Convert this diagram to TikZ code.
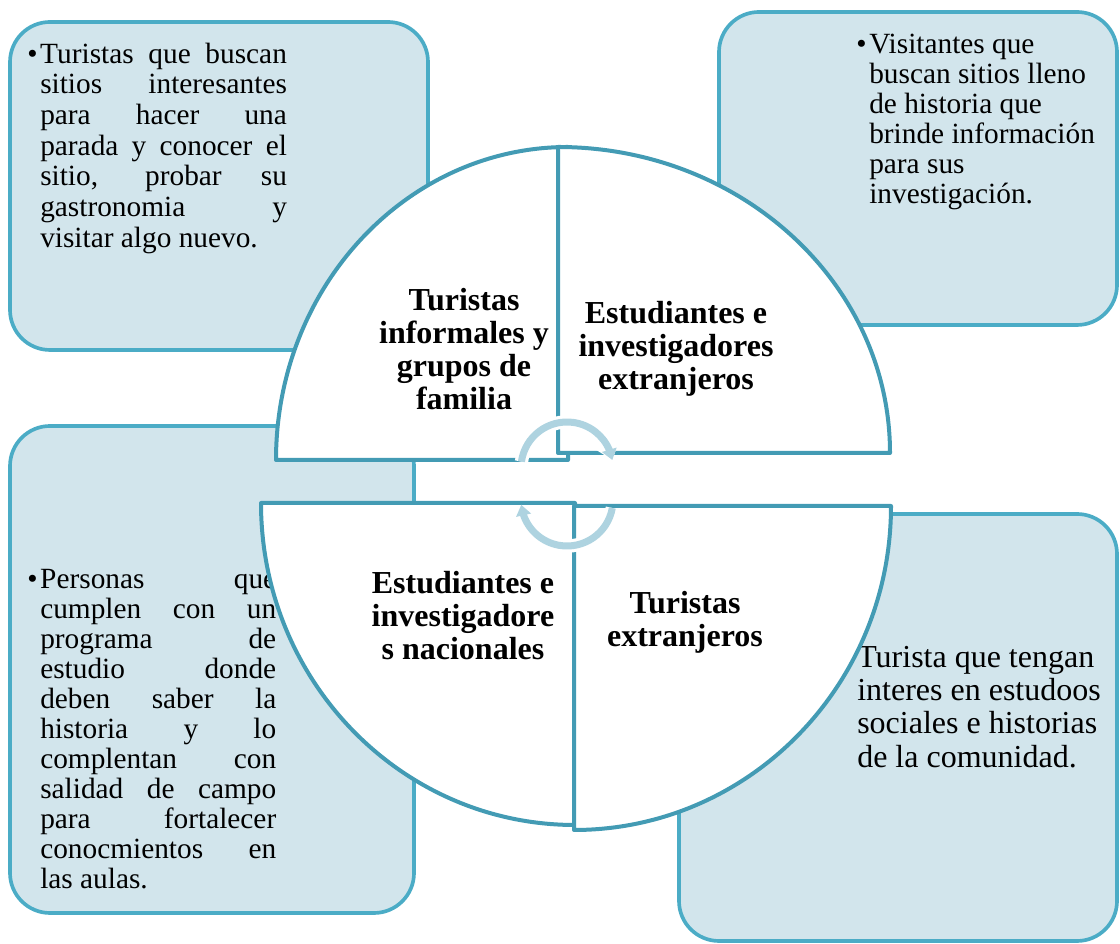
\documentclass[tikz,border=0pt]{standalone}
\usepackage{fontspec}
\setmainfont{Liberation Serif}
\usetikzlibrary{arrows.meta,bending}
\definecolor{boxline}{RGB}{75,172,198}
\definecolor{boxfill}{RGB}{210,229,236}
\definecolor{secline}{RGB}{67,155,180}
\definecolor{arrowc}{RGB}{174,211,224}
\begin{document}
\begin{tikzpicture}[x=0.75pt,y=0.75pt,
  box/.style={draw=boxline, fill=boxfill, line width=2.75pt, rounded corners=30pt},
  sector/.style={draw=secline, fill=white, line width=3pt, line join=round},
  btext/.style={inner sep=0pt, anchor=north west, align=left, font=\fontsize{22}{22.5}\selectfont},
  seclabel/.style={inner sep=0pt, anchor=north, align=center, font=\bfseries\fontsize{24}{24.75}\selectfont},
  arrowline/.style={line width=5.25pt, color=arrowc, -{Triangle[width=11pt,length=8pt]}},
  arrowhalo/.style={line width=10pt, color=white, -{Triangle[width=17pt,length=11pt]}},
]
\path[use as bounding box] (0,0) rectangle (1120,944);

% boxes
\draw[box] (10,922) rectangle (428,594);
\draw[box] (719,932) rectangle (1117,619);
\draw[box] (10,518) rectangle (414,31);
\draw[box] (679,430) rectangle (1117,3);

% box texts
\node[btext, font=\fontsize{22}{23}\selectfont] (tltext) at (40,902.3) {\rule{0pt}{16pt}\llap{•\hspace{2pt}}\makebox[185pt][s]{Turistas que buscan}\\
\makebox[185pt][s]{sitios interesantes}\\
\makebox[185pt][s]{para hacer una}\\
\makebox[185pt][s]{parada y conocer el}\\
\makebox[185pt][s]{sitio, probar su}\\
\makebox[185pt][s]{gastronomia y}\\
visitar algo nuevo.};

\node[btext] (trtext) at (869,912.3) {\rule{0pt}{16pt}\llap{•\hspace{2pt}}Visitantes que\\
buscan sitios lleno\\
de historia que\\
brinde información\\
para sus\\
investigación.};

\node[btext] (bltext) at (40,377.3) {\rule{0pt}{16pt}\llap{•\hspace{2pt}}\makebox[177pt][s]{Personas que}\\
\makebox[177pt][s]{cumplen con un}\\
\makebox[177pt][s]{programa de}\\
\makebox[177pt][s]{estudio donde}\\
\makebox[177pt][s]{deben saber la}\\
\makebox[177pt][s]{historia y lo}\\
\makebox[177pt][s]{complentan con}\\
\makebox[177pt][s]{salidad de campo}\\
\makebox[177pt][s]{para fortalecer}\\
\makebox[177pt][s]{conocmientos en}\\
las aulas.};

\node[btext, font=\fontsize{24}{25}\selectfont] (brtext) at (857,300.3) {\rule{0pt}{17.5pt}Turista que tengan\\
interes en estudoos\\
sociales e historias\\
de la comunidad.};

% sectors
\draw[sector] (276,484) arc[start angle=180,end angle=90,x radius=219pt,y radius=234.75pt] -- (568,484) -- cycle;
\draw[sector] (558,491) -- (558,797) arc[start angle=90,end angle=0,x radius=249pt,y radius=229.5pt] -- cycle;
\draw[sector] (261,441) -- (575,441) -- (575,119) arc[start angle=270,end angle=180,x radius=235.5pt,y radius=241.5pt] -- cycle;
\draw[sector] (574,438) -- (891,438) arc[start angle=0,end angle=-90,x radius=237.75pt,y radius=243pt] -- cycle;

% sector labels
\node[seclabel] (tllab) at (464,656.7) {\rule{0pt}{17pt}Turistas\\informales y\\grupos de\\familia};
\node[seclabel] (trlab) at (676,643.7) {\rule{0pt}{17pt}Estudiantes e\\investigadores\\extranjeros};
\node[seclabel] (bllab) at (463,373.7) {\rule{0pt}{17pt}Estudiantes e\\investigadore\\s nacionales};
\node[seclabel] (brlab) at (685,353.7) {\rule{0pt}{17pt}Turistas\\extranjeros};

% central circular arrows
\coordinate (a1) at (521.45,482.4);
\coordinate (a2) at (612.3,436.0);
\draw[arrowhalo] (a1) arc[start angle=172,end angle=10,radius=34.5pt];
\draw[arrowline] (a1) arc[start angle=172,end angle=10,radius=34.5pt];
\draw[arrowhalo] (a2) arc[start angle=-10,end angle=-174,radius=34.5pt];
\draw[arrowline] (a2) arc[start angle=-10,end angle=-174,radius=34.5pt];
\end{tikzpicture}
\end{document}
